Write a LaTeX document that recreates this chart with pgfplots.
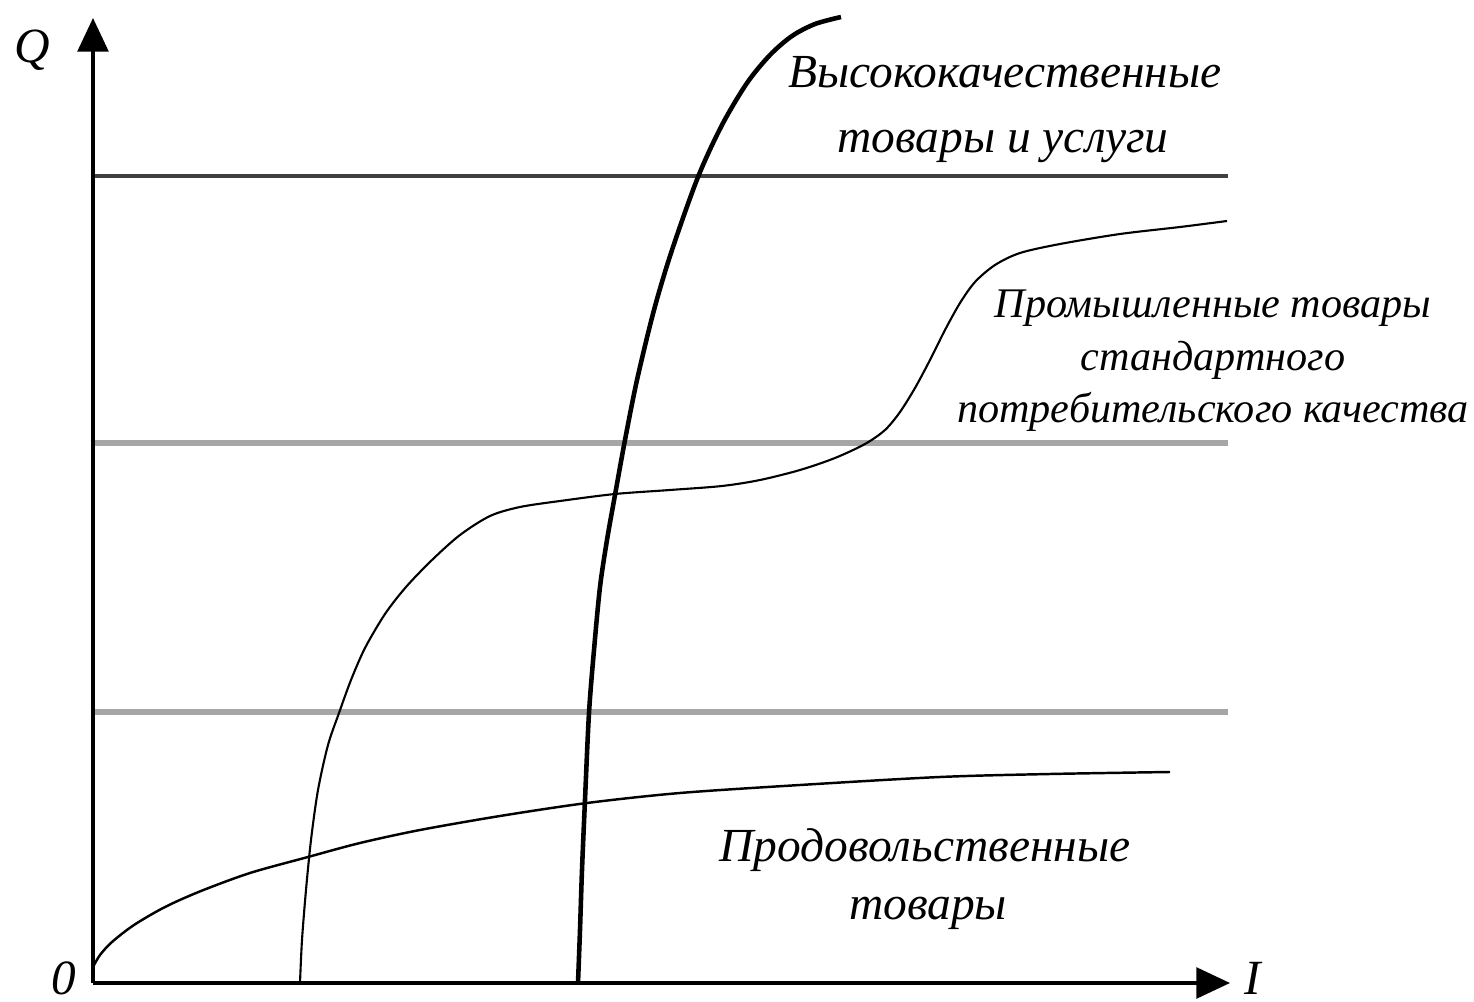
\documentclass[border=0pt]{standalone}
\usepackage{fontspec}
\setmainfont{Liberation Serif}
\usepackage{pgfplots}
\pgfplotsset{compat=1.18}
\usetikzlibrary{arrows.meta}
\begin{document}
\begin{tikzpicture}[
  lbl/.style={font=\itshape\fontsize{13.5}{16}\selectfont, anchor=base},
  lbs/.style={font=\itshape\fontsize{12}{14}\selectfont, anchor=base},
  ax/.style={font=\itshape\fontsize{14}{16}\selectfont, anchor=base},
]
\begin{axis}[
  name=main,
  scale only axis,
  width=14.74cm, height=10.02cm,
  xmin=0, xmax=1474, ymin=0, ymax=1002,
  y dir=reverse,
  axis lines=none,
  clip=false,
  every axis plot/.append style={no marks},
]
% quality levels
\addplot[black!75, line width=0.9pt] coordinates {(93,176) (1228,176)};
\addplot[gray!70, line width=1.5pt] coordinates {(93,443) (1228,443)};
\addplot[gray!70, line width=1.5pt] coordinates {(93,712) (1228,712)};
% food
\addplot[black, line width=0.7pt, smooth] coordinates {
  (93,967) (100,955) (112,942) (134,925) (165,907) (201,891) (250,873)
  (308,857) (360,843) (420,830) (500,816) (587,803) (680,793) (800,785)
  (940,777) (1050,774) (1170,772)};
% industrial goods
\addplot[black, line width=0.6pt, smooth] coordinates {
  (300,983) (302,940) (306,890) (311,840) (318,790) (328,745) (339,713)
  (351,680) (365,648) (385,614) (406,587) (432,560) (460,535) (490,516)
  (520,507) (560,501) (615,494) (670,490) (722,486) (760,480) (800,470)
  (835,458) (865,444) (885,430) (900,412) (915,388) (930,360) (945,330)
  (960,303) (975,282) (995,265) (1020,253) (1060,244) (1120,234)
  (1180,227) (1227,221)};
% high quality goods
\addplot[black, line width=1.3pt, smooth] coordinates {
  (578,983) (580,930) (582,870) (585,800) (589,713) (594,650) (600,587)
  (607,540) (615,495) (625,440) (637,380) (654,310) (672,250) (698,177)
  (722,125) (747,83) (770,55) (792,36) (815,24) (841,17)};
% axes
\addplot[black, line width=0.9pt, -{Triangle[length=9.6pt,width=8.8pt]}] coordinates {(93,983) (93,18)};
\addplot[black, line width=0.9pt, -{Triangle[length=9.6pt,width=8.8pt]}] coordinates {(93,983) (1230,983)};
\node[ax] at (axis cs:32,62) {Q};
\node[ax] at (axis cs:64,994) {0};
\node[ax] at (axis cs:1253,994) {I};
\node[lbl] at (axis cs:1005,88) {Высококачественные};
\node[lbl] at (axis cs:1003,152) {товары и услуги};
\node[lbs] at (axis cs:1213,317) {Промышленные товары};
\node[lbs] at (axis cs:1213,370) {стандартного};
\node[lbs] at (axis cs:1213,422) {потребительского качества};
\node[lbl] at (axis cs:925,862) {Продовольственные};
\node[lbl] at (axis cs:928,920) {товары};
\end{axis}
\pgfresetboundingbox
\path (main.south west) rectangle (main.north east);
\end{tikzpicture}
\end{document}
